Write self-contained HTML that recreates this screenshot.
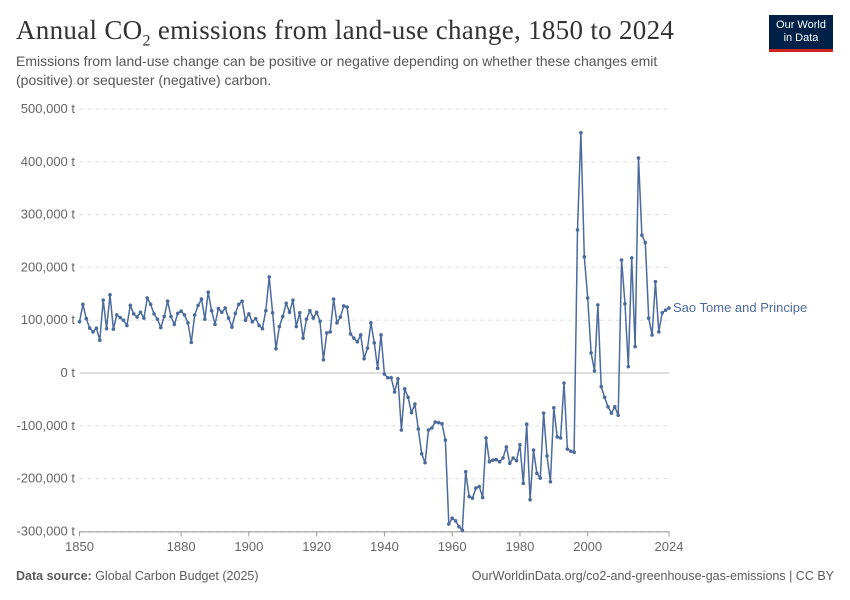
<!DOCTYPE html>
<html><head><meta charset="utf-8">
<style>
body{margin:0;background:#fff;font-family:"Liberation Sans",sans-serif;}
#wrap{position:relative;width:850px;height:600px;overflow:hidden;background:#fff;}
.title{position:absolute;left:16px;top:15px;font-family:"Liberation Serif",serif;font-size:27px;letter-spacing:0.3px;color:#333;white-space:nowrap;}
.sub{position:absolute;left:16px;top:52px;font-size:14px;color:#555;line-height:19px;width:700px;}
.logo{position:absolute;left:769px;top:15px;width:64px;height:37px;background:#002147;border-bottom:3px solid #ce261e;color:#fff;font-size:11px;text-align:center;line-height:13px;padding-top:4px;box-sizing:border-box;}
.foot{position:absolute;top:569px;font-size:12.5px;color:#5b5b5b;}
</style></head><body>
<div id="wrap">
<div class="title">Annual CO<sub style="font-size:16px">2</sub> emissions from land-use change, 1850 to 2024</div>
<div class="sub">Emissions from land-use change can be positive or negative depending on whether these changes emit (positive) or sequester (negative) carbon.</div>
<div class="logo">Our World<br>in Data</div>
<svg id="chart" width="850" height="600" style="position:absolute;left:0;top:0"></svg>
<div class="foot" style="left:16px"><b>Data source:</b> Global Carbon Budget (2025)</div>
<div class="foot" style="right:16px">OurWorldinData.org/co2-and-greenhouse-gas-emissions | CC BY</div>
</div>
<script>
const startYear = 1850;
const values = [
97,130,103,85,78,85,62,138,84,148,83,110,105,100,90,128,112,106,115,104,142,130,112,102,86,107,136,107,92,113,117,110,95,58,110,128,140,102,153,118,92,122,115,123,104,87,113,130,136,100,112,97,103,90,84,118,
182,114,46,88,107,132,115,138,88,114,66,102,118,104,115,98,25,76,78,140,95,106,127,125,74,66,59,72,27,47,95,57,9,72,-2,-9,-9,-36,-11,-108,-30,-46,-75,-59,-106,-153,-170,-108,-104,-93,-94,-96,-127,-286,-275,-280,-291,-298,
-187,-234,-237,-218,-215,-236,-123,-168,-165,-164,-168,-161,-140,-171,-161,-166,-136,-209,-97,-240,-146,-190,-199,-76,-157,-206,-66,-121,-123,-19,-144,-148,-150,271,455,220,142,38,4,129,-26,-46,-64,-76,-64,-80,214,131,12,218,50,407,261,247,104,72,173,78,114,119,123
].map(v=>v*1000);
const yTicks = [-300000,-200000,-100000,0,100000,200000,300000,400000,500000];
const yTickLabels = ["-300,000 t","-200,000 t","-100,000 t","0 t","100,000 t","200,000 t","300,000 t","400,000 t","500,000 t"];
const xTicks = [1850,1880,1900,1920,1940,1960,1980,2000,2024];
const seriesName = "Sao Tome and Principe";

const X0=79.5,X1=669,Y0=109,YZ=373,Ymin=-300000;
const x = yr => X0 + (yr-startYear)/(2024-startYear)*(X1-X0);
const y = v => YZ - v/500000*(YZ-Y0);
const svg = document.getElementById('chart');
const NS="http://www.w3.org/2000/svg";
function mk(t,a){const e=document.createElementNS(NS,t);for(const k in a)e.setAttribute(k,a[k]);svg.appendChild(e);return e;}
yTicks.forEach((t,i)=>{
  const l=mk('line',{x1:X0,x2:X1,y1:y(t),y2:y(t),stroke:t===0?'#bbb':'#ddd','stroke-width':1,'stroke-dasharray':t===0?'':'4,4'});
  
  
  const tx=mk('text',{x:75,y:y(t)+4,'text-anchor':'end','font-size':13,fill:'#666','font-family':'Liberation Sans, sans-serif'});
  tx.textContent=yTickLabels[i];
  
  
});
const ax=mk('line',{x1:X0,x2:X1,y1:y(Ymin)+0.5,y2:y(Ymin)+0.5,stroke:'#999'});


xTicks.forEach(t=>{
  const tk=mk('line',{x1:x(t),x2:x(t),y1:y(Ymin),y2:y(Ymin)+5,stroke:'#999'});
  
  
  const tx=mk('text',{x:x(t),y:551,'text-anchor':'middle','font-size':13,fill:'#666','font-family':'Liberation Sans, sans-serif'});
  tx.textContent=t;
  
  
});
const pts=values.map((v,i)=>x(startYear+i).toFixed(1)+','+y(v).toFixed(1)).join(' ');
const pl=mk('polyline',{points:pts,fill:'none',stroke:'#4c6a9c','stroke-width':1.5});


values.forEach((v,i)=>{
  const c=mk('circle',{cx:x(startYear+i),cy:y(v),r:1.8,fill:'#4c6a9c'});
  
  
});
const lab=mk('text',{x:673,y:y(values[values.length-1])+4,'font-size':13,fill:'#4c6a9c','font-family':'Liberation Sans, sans-serif'});
lab.textContent=seriesName;


</script>
</body></html>
